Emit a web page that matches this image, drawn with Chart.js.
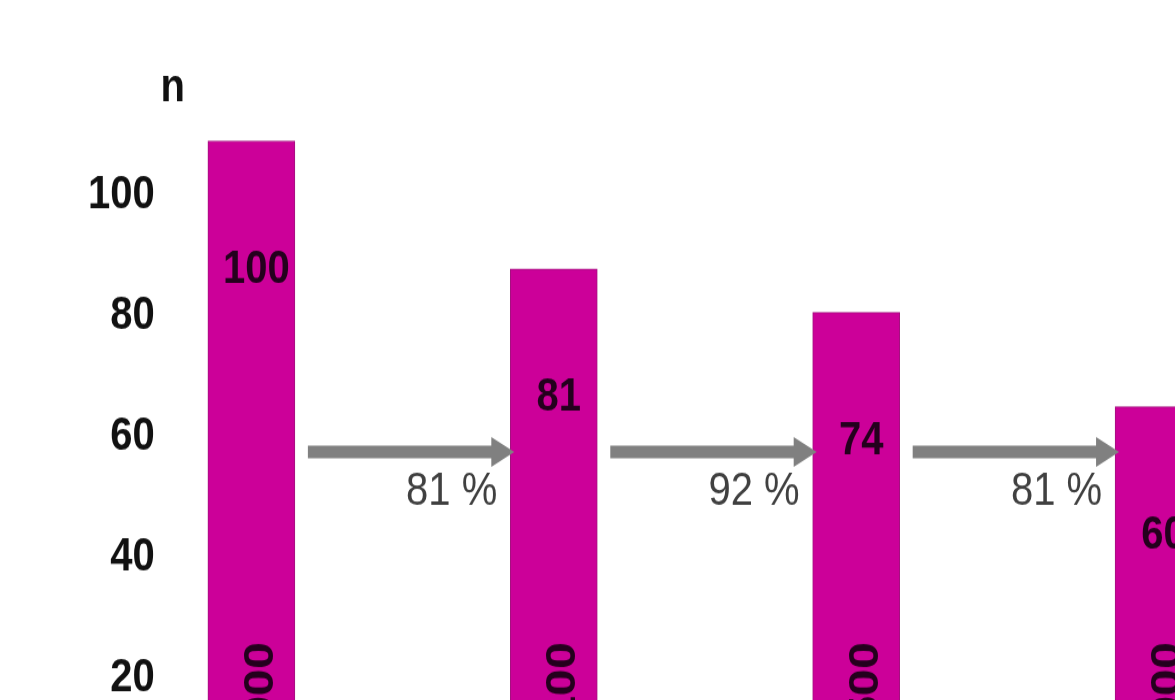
<!DOCTYPE html>
<html>
<head>
<meta charset="utf-8">
<script src="https://cdn.jsdelivr.net/npm/chart.js@4/dist/chart.umd.min.js"></script>
<style>
  html, body { margin: 0; padding: 0; background: #fff; overflow: hidden; }
  #wrap { width: 1360px; height: 734px; transform: scaleY(1.15); transform-origin: 0 0; }
</style>
</head>
<body>
<div id="wrap"><canvas id="funnelChart" width="1360" height="734"></canvas></div>
<script>
// stages along the funnel and their counts
const stages = [0, 1, 2, 3];
const counts = [109, 87.8, 80.6, 65];
const stageLabels = ["10 900", "9 100", "8 500", "7 000"];
const yTicks = [20, 40, 60, 80, 100];
const unitLabel = "n";

const FONT = '"Liberation Sans", Arial, sans-serif';

// index relative to the first stage, and conversion from one stage to the next
const indexOf = (i) => Math.round(counts[i] / counts[0] * 100);
const stepOf = (i) => Math.round(counts[i] / counts[i - 1] * 100);

const annotate = {
  id: "annotate",
  afterDatasetsDraw(chart) {
    const { ctx, scales: { y } } = chart;
    const bars = chart.getDatasetMeta(0).data;
    ctx.save();

    // unit over the value axis
    ctx.font = "bold 40px " + FONT;
    ctx.fillStyle = "#111";
    ctx.textAlign = "center";
    ctx.textBaseline = "middle";
    ctx.fillText(unitLabel, y.right + 3, chart.chartArea.top - 14);

    // index inside each bar
    ctx.fillStyle = "#24001d";
    bars.forEach((bar, i) => {
      ctx.fillText(String(indexOf(i)), bar.x + 5, bar.y + 112);
    });

    // arrows between bars with the step percentage
    const yA = y.getPixelForValue(57.5);
    for (let i = 1; i < bars.length; i++) {
      const prev = bars[i - 1], cur = bars[i];
      const x0 = prev.x + prev.width / 2 + 13;
      const x1 = cur.x - cur.width / 2 + 4;
      ctx.strokeStyle = "#808080";
      ctx.fillStyle = "#808080";
      ctx.lineWidth = 11;
      ctx.beginPath();
      ctx.moveTo(x0, yA);
      ctx.lineTo(x1 - 20, yA);
      ctx.stroke();
      ctx.beginPath();
      ctx.moveTo(x1, yA);
      ctx.lineTo(x1 - 23, yA - 13);
      ctx.lineTo(x1 - 23, yA + 13);
      ctx.closePath();
      ctx.fill();

      ctx.font = "40px " + FONT;
      ctx.fillStyle = "#404040";
      ctx.textAlign = "right";
      ctx.fillText(stepOf(i) + " %", x1 - 17, yA + 35);
    }

    // stage counts, written upwards at the foot of each bar
    ctx.font = "bold 42px " + FONT;
    ctx.fillStyle = "#24001d";
    bars.forEach((bar, i) => {
      ctx.save();
      ctx.translate(bar.x + 10, y.getPixelForValue(26));
      ctx.rotate(-Math.PI / 2);
      ctx.textAlign = "right";
      ctx.textBaseline = "middle";
      ctx.fillText(stageLabels[i], 0, 0);
      ctx.restore();
    });

    ctx.restore();
  }
};

new Chart(document.getElementById("funnelChart"), {
  type: "bar",
  data: {
    datasets: [{
      data: stages.map((s, i) => ({ x: s, y: counts[i] })),
      backgroundColor: "#cc0099",
      borderColor: "#a3117f",
      borderWidth: 1,
      barThickness: 87
    }]
  },
  options: {
    responsive: false,
    animation: false,
    devicePixelRatio: 1,
    layout: { padding: { left: 73, top: 91, bottom: 28, right: 10 } },
    plugins: { legend: { display: false }, tooltip: { enabled: false } },
    scales: {
      x: { type: "linear", offset: false, min: -0.27, max: 3.633, display: false },
      y: {
        min: 0,
        max: 115,
        afterBuildTicks: (axis) => { axis.ticks = yTicks.map((v) => ({ value: v })); },
        ticks: { font: { family: FONT, size: 40, weight: "bold" }, color: "#111", padding: 15 },
        grid: { display: false, drawTicks: false },
        border: { display: false }
      }
    }
  },
  plugins: [annotate]
});
</script>
</body>
</html>
